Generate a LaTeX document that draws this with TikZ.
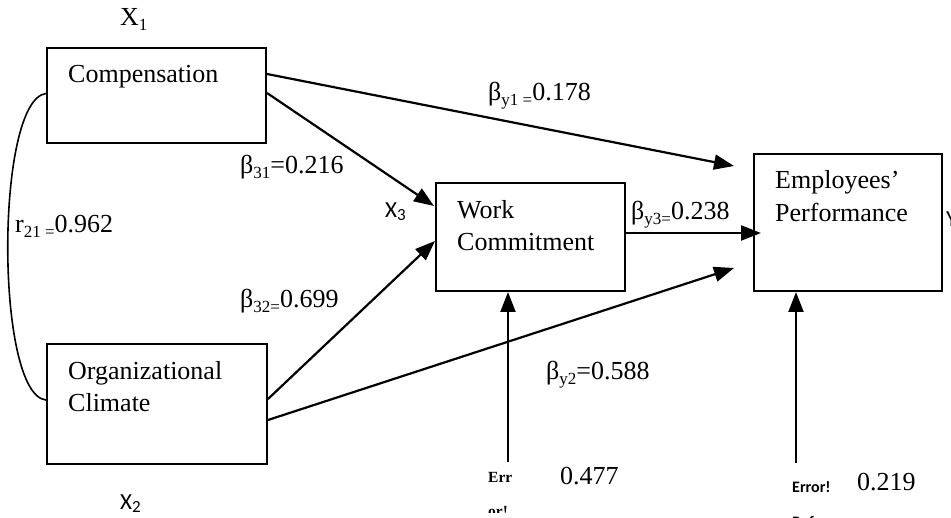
\documentclass[tikz,border=0pt]{standalone}
\usepackage{fontspec}
\setmainfont{Liberation Serif}
\newfontfamily\calfont{Carlito}
\usetikzlibrary{arrows.meta}
\newcommand{\sbs}[1]{\raisebox{-5pt}{\fontsize{17}{17}\selectfont #1}}
\begin{document}
\begin{tikzpicture}[x=1pt,y=-1pt,
  box/.style={draw,line width=2pt,rectangle,inner sep=0pt},
  lbl/.style={anchor=base west,inner sep=0pt,font=\fontsize{26}{26}\selectfont},
  sans/.style={anchor=base west,inner sep=0pt,font=\calfont\fontsize{23}{23}\selectfont},
  conn/.style={line width=2.2pt,-{Triangle[length=20pt,width=15pt]}}]
\useasboundingbox (0,0) rectangle (951,518);
% boxes
\node[box,minimum width=219pt,minimum height=95pt] (comp) at (156.5,95.5) {};
\node[box,minimum width=220pt,minimum height=120pt] (org) at (157,404) {};
\node[box,minimum width=189pt,minimum height=108pt] (work) at (530.5,237) {};
\node[box,minimum width=188pt,minimum height=137pt] (emp) at (848,222.5) {};
% box texts
\node[lbl] (t1) at (68,83) {Compensation};
\node[lbl] (t2) at (68,380) {Organizational};
\node[lbl] (t3) at (68,412) {Climate};
\node[lbl] (t4) at (457,219) {Work};
\node[lbl] (t5) at (457,251) {Commitment};
\node[lbl] (t6) at (775,189) {Employees’};
\node[lbl] (t7) at (775,222) {Performance};
% variable labels
\node[lbl] (x1) at (120,26) {X\sbs{1}};
\node[sans] (x2) at (120,510) {X\raisebox{-3pt}{\fontsize{17}{17}\selectfont 2}};
\node[sans] (x3) at (385,218) {X\raisebox{-3pt}{\fontsize{17}{17}\selectfont 3}};
\node[sans] (yy) at (946,227) {Y};
% coefficients
\node[lbl] (b1) at (488,101) {β\sbs{y1 =}0.178};
\node[lbl] (b2) at (240,174) {β\sbs{31}=0.216};
\node[lbl] (b3) at (631,220) {β\sbs{y3=}0.238};
\node[lbl] (b4) at (15,233) {r\sbs{21 =}0.962};
\node[lbl] (b5) at (240,308) {β\sbs{32=}0.699};
\node[lbl] (b6) at (546,380) {β\sbs{y2}=0.588};
\node[lbl] (e477) at (560,485) {0.477};
\node[lbl] (e219) at (857,490) {0.219};
% error texts
\node[anchor=base west,inner sep=0pt,font=\bfseries\fontsize{15.5}{15.5}\selectfont] (err1) at (488,483) {Err};
\begin{scope}
\clip (0,0) rectangle (951,512);
\node[anchor=base west,inner sep=0pt,font=\bfseries\fontsize{15.5}{15.5}\selectfont] (err1b) at (488,516) {or!};
\end{scope}
\node[anchor=base west,inner sep=0pt,font=\calfont\bfseries\fontsize{16}{16}\selectfont] (err2) at (792,493) {Error!};
\node[anchor=base west,inner sep=0pt,font=\calfont\bfseries\fontsize{16}{16}\selectfont] (err2b) at (792,528) {Ref};
% correlation curve
\draw[line width=1.6pt] ([yshift=2pt]comp.west) .. controls (-5,100) and (-5,395) .. ([yshift=4pt]org.west);
% paths
\draw[conn] ([yshift=-27pt]comp.north east) -- ([xshift=-19pt,yshift=-13pt]emp.north west);
\draw[conn] ([yshift=-46pt]comp.north east) -- ([xshift=-1pt,yshift=-24pt]work.north west);
\draw[conn] ([yshift=-56pt]org.north east) -- ([yshift=-59pt]work.north west);
\draw[conn] ([yshift=-77pt]org.north east) -- ([xshift=-19pt,yshift=-115pt]emp.north west);
\draw[conn] ([yshift=4pt]work.east) -- ([xshift=8pt,yshift=-10.5pt]emp.west);
\coordinate (s1) at (508,462);
\coordinate (s2) at (796,463);
\draw[conn] (s1) -- (s1 |- work.south);
\draw[conn] (s2) -- (s2 |- emp.south);
\end{tikzpicture}
\end{document}
